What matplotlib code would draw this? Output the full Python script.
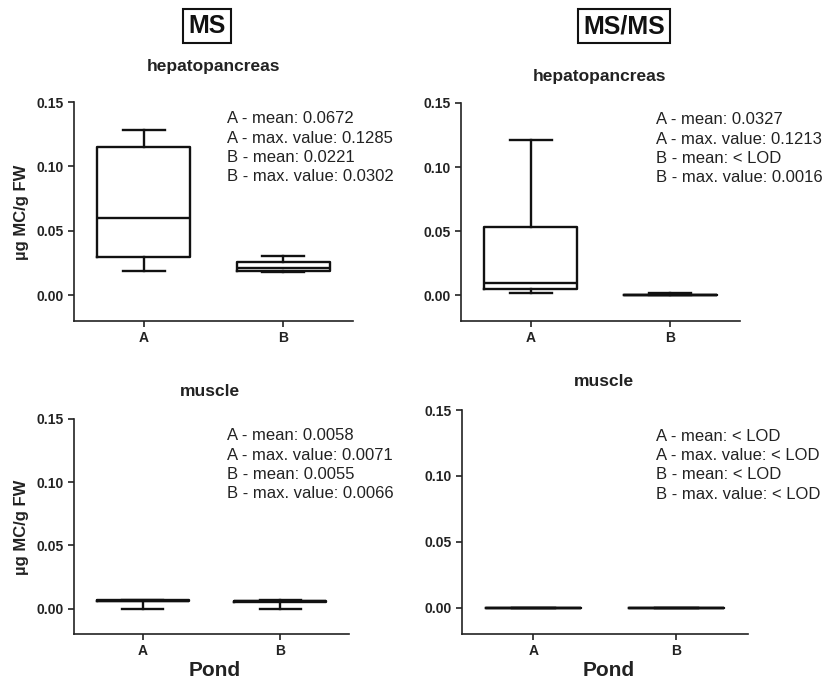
import matplotlib
matplotlib.use("Agg")
import matplotlib.pyplot as plt

plt.rcParams['font.family'] = ['Liberation Sans', 'DejaVu Sans']

# ---- data ----
ponds = ["A", "B"]
# box stats: whislo, q1, median, q3, whishi
ms_hep_A = [0.019, 0.030, 0.060, 0.115, 0.1285]
ms_hep_B = [0.018, 0.019, 0.021, 0.026, 0.0302]
msms_hep_A = [0.002, 0.005, 0.010, 0.053, 0.1213]
msms_hep_B = [0.0, 0.0, 0.0, 0.0, 0.0016]
ms_mus_A = [0.0, 0.0058, 0.0063, 0.0066, 0.0071]
ms_mus_B = [0.0, 0.0055, 0.0060, 0.0062, 0.0066]
msms_mus_A = [0.0, 0.0, 0.0, 0.0, 0.0]
msms_mus_B = [0.0, 0.0, 0.0, 0.0, 0.0]

ms_hep_text = ["A - mean: 0.0672", "A - max. value: 0.1285",
               "B - mean: 0.0221", "B - max. value: 0.0302"]
msms_hep_text = ["A - mean: 0.0327", "A - max. value: 0.1213",
                 "B - mean: < LOD", "B - max. value: 0.0016"]
ms_mus_text = ["A - mean: 0.0058", "A - max. value: 0.0071",
               "B - mean: 0.0055", "B - max. value: 0.0066"]
msms_mus_text = ["A - mean: < LOD", "A - max. value: < LOD",
                 "B - mean: < LOD", "B - max. value: < LOD"]

yticks = [0.00, 0.05, 0.10, 0.15]
ylim = (-0.02, 0.15)

W, H = 837, 684
fig = plt.figure(figsize=(W / 100, H / 100), dpi=100)


def px_rect(l, t, r, b):
    return [l / W, 1 - b / H, (r - l) / W, (b - t) / H]


def stats(vals, label):
    lo, q1, med, q3, hi = vals
    return dict(whislo=lo, q1=q1, med=med, q3=q3, whishi=hi, label=label, fliers=[])


def panel(rect, A, B, lines, tx, ty):
    ax = fig.add_axes(rect)
    lw = 1.7
    ax.bxp([stats(A, ponds[0]), stats(B, ponds[1])], positions=[0, 1],
           widths=0.67, capwidths=0.3, showfliers=False,
           boxprops=dict(color='#111111', linewidth=lw),
           whiskerprops=dict(color='#111111', linewidth=lw),
           capprops=dict(color='#111111', linewidth=lw),
           medianprops=dict(color='#111111', linewidth=lw))
    ax.set_xlim(-0.5, 1.5)
    ax.set_ylim(*ylim)
    ax.set_yticks(yticks)
    ax.set_yticklabels([f"{v:.2f}" for v in yticks])
    ax.set_xticks([0, 1])
    ax.set_xticklabels(ponds)
    for s in ['top', 'right']:
        ax.spines[s].set_visible(False)
    for s in ['left', 'bottom']:
        ax.spines[s].set_linewidth(1.2)
        ax.spines[s].set_color('#222222')
    ax.spines['left'].set_bounds(ylim[0], 0.15)
    ax.tick_params(axis='both', length=4, width=1.2, color='#222222',
                   labelsize=10, pad=3.5)
    for lab in ax.get_xticklabels() + ax.get_yticklabels():
        lab.set_fontweight('bold')
        lab.set_color('#222222')
    ax.text(tx, ty, "\n".join(lines), transform=ax.transAxes,
            ha='left', va='top', fontsize=12, color='#222222', linespacing=1.36)
    return ax


panel(px_rect(74, 102, 353, 321), ms_hep_A, ms_hep_B, ms_hep_text, 0.548, 0.957)
panel(px_rect(461, 103, 740, 321), msms_hep_A, msms_hep_B, msms_hep_text, 0.699, 0.957)
panel(px_rect(74, 419, 349, 634), ms_mus_A, ms_mus_B, ms_mus_text, 0.556, 0.956)
panel(px_rect(462, 410, 748, 634), msms_mus_A, msms_mus_B, msms_mus_text, 0.678, 0.917)

# headers
for label, x in [("MS", 207), ("MS/MS", 624)]:
    fig.text(x / W, 1 - 26 / H, label, ha='center', va='center', fontsize=18,
             fontweight='bold', color='#111111',
             bbox=dict(boxstyle='square,pad=0.2', fc='white', ec='#111111', lw=1.5))

# panel titles
for label, x, y in [("hepatopancreas", 214, 67), ("hepatopancreas", 600, 76),
                    ("muscle", 210, 392), ("muscle", 604, 382)]:
    fig.text(x / W, 1 - y / H, label, ha='center', va='center', fontsize=12.5,
             fontweight='bold', color='#222222')

# y labels
for y in [212, 527]:
    fig.text(22 / W, 1 - y / H, "µg MC/g FW", rotation=90, ha='center', va='center',
             fontsize=12, fontweight='bold', color='#222222')

# x labels
for x in [215, 609]:
    fig.text(x / W, 1 - 670 / H, "Pond", ha='center', va='center', fontsize=15,
             fontweight='bold', color='#222222')

fig.savefig("out.png", dpi=100)
